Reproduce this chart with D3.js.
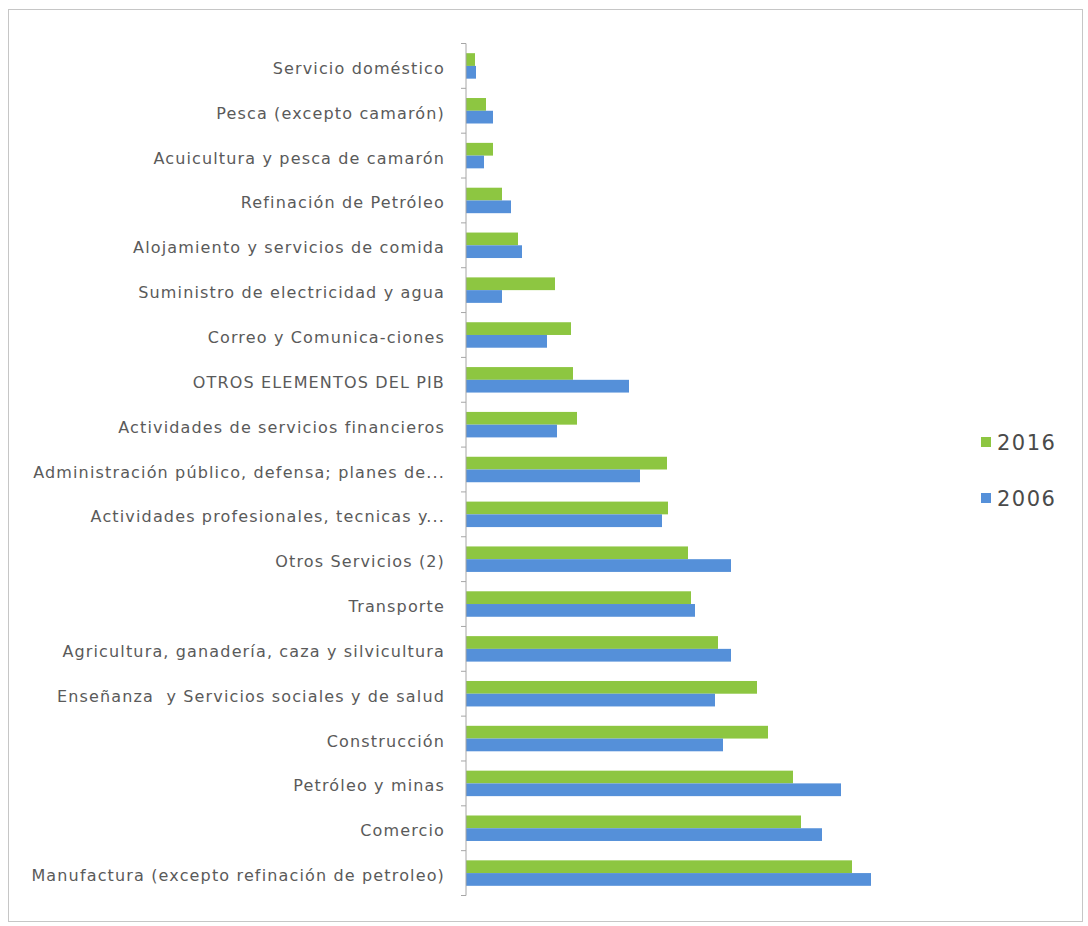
<!DOCTYPE html>
<html>
<head>
<meta charset="utf-8">
<script src="https://cdn.jsdelivr.net/npm/d3@7"></script>
<style>
  html, body { margin: 0; padding: 0; background: #ffffff; }
  svg { display: block; }
</style>
</head>
<body>
<svg id="chart" width="1088" height="926"></svg>
<script>
// ---- data (arbitrary units) ----
const categories = [
  "Servicio doméstico",
  "Pesca (excepto camarón)",
  "Acuicultura y pesca de camarón",
  "Refinación de Petróleo",
  "Alojamiento y servicios de comida",
  "Suministro de electricidad y agua",
  "Correo y Comunica-ciones",
  "OTROS ELEMENTOS DEL PIB",
  "Actividades de servicios financieros",
  "Administración público, defensa; planes de...",
  "Actividades profesionales, tecnicas y...",
  "Otros Servicios (2)",
  "Transporte",
  "Agricultura, ganadería, caza y silvicultura",
  "Enseñanza  y Servicios sociales y de salud",
  "Construcción",
  "Petróleo y minas",
  "Comercio",
  "Manufactura (excepto refinación de petroleo)"
];
const seriesNames = ["2016", "2006"];
const values2016 = [9, 20, 27, 36, 52, 89, 105, 107, 111, 201, 202, 222, 225, 252, 291, 302, 327, 335, 386];
const values2006 = [10, 27, 18, 45, 56, 36, 81, 163, 91, 174, 196, 265, 229, 265, 249, 257, 375, 356, 405];
const seriesColors = ["#8dc641", "#5590d9"];

// ---- layout ----
const svg = d3.select("#chart");
const axisX = 466;
const plotTop = 43.5, plotBottom = 895.5;

svg.append("rect")
  .attr("x", 8.5).attr("y", 9.5)
  .attr("width", 1074).attr("height", 912)
  .attr("fill", "#fff")
  .attr("stroke", "#c6c6c6").attr("stroke-width", 1);

const y = d3.scaleBand().domain(categories).range([plotTop, plotBottom]).paddingInner(0).paddingOuter(0);
const ySub = d3.scaleBand().domain(seriesNames).range([0, y.step()]).paddingInner(0).paddingOuter(0.76);
const x = d3.scaleLinear().domain([0, 420]).range([axisX, axisX + 420]);
const color = d3.scaleOrdinal().domain(seriesNames).range(seriesColors);

const rows = categories.map((c, i) => ({ cat: c, vals: [
  { s: "2016", v: values2016[i] },
  { s: "2006", v: values2006[i] }
]}));

const g = svg.append("g");
const groups = g.selectAll("g.row").data(rows).join("g")
  .attr("class", "row")
  .attr("transform", d => `translate(0,${y(d.cat)})`);

groups.selectAll("rect").data(d => d.vals).join("rect")
  .attr("x", x(0))
  .attr("y", d => ySub(d.s))
  .attr("width", d => x(d.v) - x(0))
  .attr("height", ySub.bandwidth())
  .attr("fill", d => color(d.s));

// ---- axis ----
const axis = d3.axisLeft(y).tickSize(0).tickPadding(21);
const ag = svg.append("g").attr("transform", `translate(${axisX},0)`).call(axis);
ag.select(".domain").attr("stroke", "#a6a6a6").attr("d", `M0,${plotTop}V${plotBottom}`);
ag.selectAll(".tick text")
  .attr("fill", "#5a5a5a")
  .attr("dy", "0.5em")
  .style("font-family", "'DejaVu Sans', sans-serif")
  .style("font-size", "16px")
  .style("letter-spacing", "1.15px")
  .style("white-space", "pre");

// boundary ticks
const boundaries = d3.range(categories.length + 1);
ag.selectAll("line.btick").data(boundaries).join("line")
  .attr("class", "btick")
  .attr("x1", -5).attr("x2", 0)
  .attr("y1", i => plotTop + i * y.step())
  .attr("y2", i => plotTop + i * y.step())
  .attr("stroke", "#a6a6a6");

// ---- legend ----
const legend = svg.append("g").attr("transform", "translate(981,437)");
const li = legend.selectAll("g").data(seriesNames).join("g")
  .attr("transform", (d, i) => `translate(0,${i * 56})`);
li.append("rect").attr("width", 10).attr("height", 10).attr("fill", d => color(d));
li.append("text")
  .attr("x", 16).attr("y", 5).attr("dy", "0.36em")
  .attr("fill", "#4a4a4a")
  .style("font-family", "'DejaVu Sans', sans-serif")
  .style("font-size", "21px")
  .style("letter-spacing", "1.5px")
  .text(d => d);
</script>
</body>
</html>
